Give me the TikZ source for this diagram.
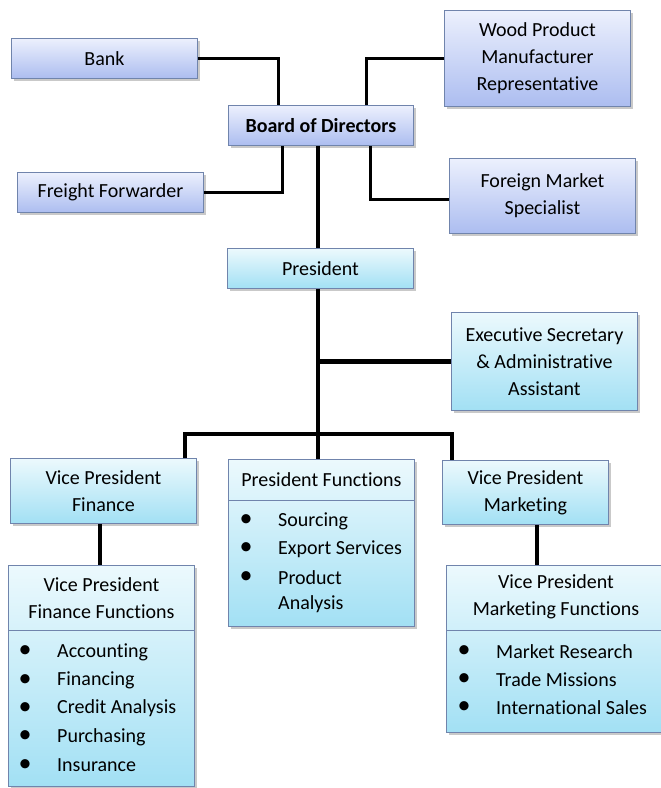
\documentclass[tikz,border=0pt]{standalone}
\usepackage{fontspec}
\setmainfont{Carlito}[RawFeature={-liga;-clig;-calt;-dlig}]
\usetikzlibrary{shadows}
\definecolor{topA}{RGB}{236,240,253}
\definecolor{topB}{RGB}{172,189,240}
\definecolor{lowA}{RGB}{236,249,253}
\definecolor{lowB}{RGB}{162,224,244}
\definecolor{bordc}{RGB}{112,132,172}
\tikzset{
  basebox/.style={draw=bordc, line width=0.9pt, rectangle, inner sep=0pt, anchor=north west,
    align=center, font=\fontsize{20}{27}\selectfont,
    drop shadow={shadow xshift=2.5pt, shadow yshift=-2.5pt, opacity=0.35, fill=black!60}},
  topbox/.style={basebox, top color=topA, bottom color=topB},
  lowbox/.style={basebox, top color=lowA, bottom color=lowB},
  plainbox/.style={draw=bordc, line width=0.9pt, rectangle, inner sep=0pt, anchor=north west,
    align=center, font=\fontsize{20}{27}\selectfont},
  bul/.style={anchor=center, scale=1.3, font=\fontsize{20}{27}\selectfont},
  itm/.style={anchor=west, inner sep=0pt, font=\fontsize{20}{27}\selectfont},
  thinln/.style={line width=3pt, black},
  thickln/.style={line width=4.5pt, black}
}
\begin{document}
\begin{tikzpicture}[x=1pt,y=-1pt]
\useasboundingbox (0,0) rectangle (661,788);
\fill[white] (0,0) rectangle (661,788);
% top group
\node[topbox, minimum width=186pt, minimum height=40pt] (bank) at (11,38) {Bank};
\node[topbox, minimum width=185pt, minimum height=40pt] (board) at (228,105) {\textbf{Board of Directors}};
\node[topbox, minimum width=186pt, minimum height=96pt] (wood) at (444,10) {Wood Product\\Manufacturer\\Representative};
\node[topbox, minimum width=186pt, minimum height=40pt] (freight) at (17,172) {Freight Forwarder};
\node[topbox, minimum width=186pt, minimum height=75pt] (foreign) at (449,158) {Foreign Market\\Specialist};
% lower group
\node[lowbox, minimum width=186pt, minimum height=40pt] (pres) at (227,248) {President};
\node[lowbox, minimum width=186pt, minimum height=98pt] (exec) at (451,312) {Executive Secretary\\\& Administrative\\Assistant};
\node[lowbox, minimum width=186pt, minimum height=65pt] (vpf) at (10,458) {Vice President\\Finance};
\node[lowbox, minimum width=166pt, minimum height=64pt] (vpm) at (442,460) {Vice President\\Marketing};
% President functions
\node[lowbox, minimum width=186pt, minimum height=167pt] (pf) at (228,459) {};
\node[plainbox, minimum width=186pt, minimum height=41pt] (pfh) at (228,459) {President Functions};
\foreach \yy in {521, 549, 578} {
  \node[bul] at (246,\yy) {\textbullet};
}
\node[itm] (pf1) at (278,521) {Sourcing};
\node[itm] (pf2) at (278,549) {Export Services};
\node[itm] (pf3) at (278,578) {Product};
\node[itm] (pf4) at (278,604) {Analysis};
% VP finance functions
\node[lowbox, minimum width=186pt, minimum height=221pt] (vpff) at (8,565) {};
\node[plainbox, minimum width=186pt, minimum height=65pt] (vpffh) at (8,565) {Vice President\\Finance Functions};
\foreach \t [count=\i] in {Accounting, Financing, Credit Analysis, Purchasing, Insurance} {
  \pgfmathsetmacro{\yy}{652+28.3*(\i-1)}
  \node[bul] at (25,\yy) {\textbullet};
  \node[itm] (ff\i) at (57,\yy) {\t};
}
% VP marketing functions
\node[lowbox, minimum width=222pt, minimum height=167pt] (vpmf) at (446,565) {};
\node[plainbox, minimum width=222pt, minimum height=65pt] (vpmfh) at (446,565) {};
\node[align=center, font=\fontsize{20}{27}\selectfont] (vpmft) at (556,597) {Vice President\\Marketing Functions};
\foreach \t [count=\i] in {Market Research, Trade Missions, International Sales} {
  \pgfmathsetmacro{\yy}{652+27.7*(\i-1)}
  \node[bul] at (464,\yy) {\textbullet};
  \node[itm] (mf\i) at (496,\yy) {\t};
}
% connectors
\draw[thinln] (bank.east) -| ([xshift=50pt]board.north west);
\draw[thinln] (wood.west) -| ([xshift=138pt]board.north west);
\draw[thinln] ([xshift=54pt]board.south west) |- (freight.east);
\draw[thinln] ([xshift=142pt]board.south west) |- ([yshift=-4pt]foreign.west);
\coordinate (jc) at (318,434);
\coordinate (jl) at (185,434);
\coordinate (jr) at (452,434);
\draw[thickln] (board.south -| jc) -- (pres.north -| jc);
\draw[thickln] (pres.south -| jc) -- (jc);
\draw[thickln] (jc |- exec.west) -- (exec.west);
\draw[thickln, line cap=butt] (jl |- vpf.north) -- (jl) -- (jr) -- (jr |- vpm.north);
\draw[thickln] (jc) -- (jc |- pf.north);
\draw[thickln] ([xshift=90pt]vpf.south west) -- ([xshift=92pt]vpffh.north west);
\draw[thickln] ([xshift=95pt]vpm.south west) -- ([xshift=91pt]vpmfh.north west);
\end{tikzpicture}
\end{document}
